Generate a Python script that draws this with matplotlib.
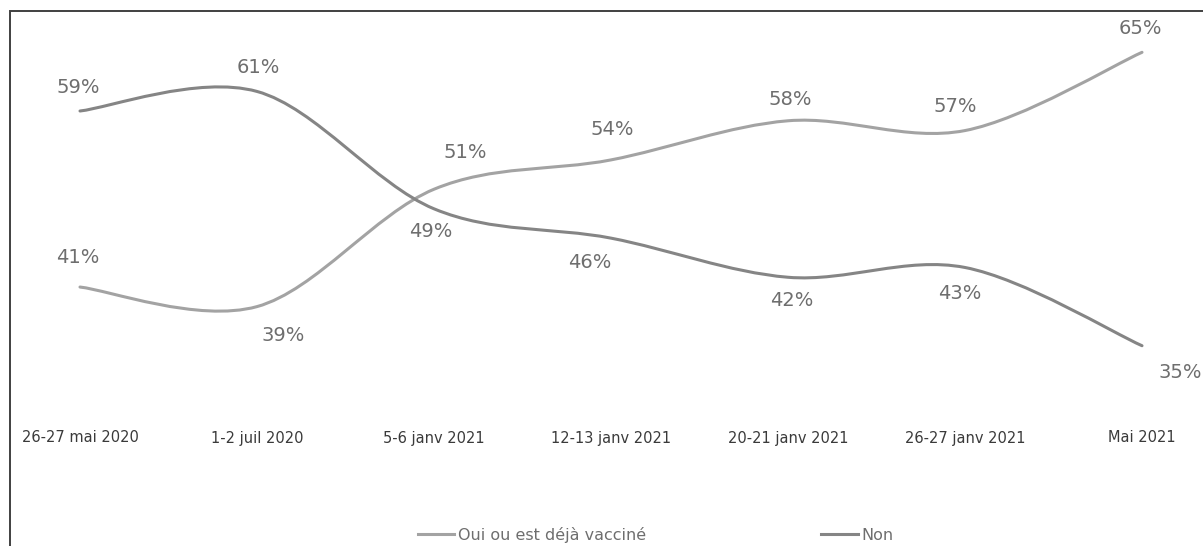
import matplotlib
matplotlib.use("Agg")
import matplotlib.pyplot as plt
from matplotlib.path import Path
from matplotlib.patches import PathPatch, Rectangle
from matplotlib.lines import Line2D
import numpy as np

categories = ["26-27 mai 2020", "1-2 juil 2020", "5-6 janv 2021", "12-13 janv 2021",
              "20-21 janv 2021", "26-27 janv 2021", "Mai 2021"]
oui = [41, 39, 51, 54, 58, 57, 65]
non = [59, 61, 49, 46, 42, 43, 35]
series_names = ["Oui ou est déjà vacciné", "Non"]

COL_OUI = "#a3a3a3"
COL_NON = "#858585"
TEXT = "#6e6e6e"

W, H = 1203, 546
fig = plt.figure(figsize=(W / 100, H / 100), dpi=100)
fig.patch.set_facecolor("white")
ax = fig.add_axes([0, 0, 1, 1])
ax.set_axis_off()

# pixel geometry of the category axis and the value scale
x0, dx = 80, 177
y59, ppu = 111, 9.78
ax.set_xlim(-x0 / dx, (W - x0) / dx)
ax.set_ylim(59 - (H - y59) / ppu, 59 + y59 / ppu)


def smooth_path(xs, ys):
    """Cubic Bezier through every point, Catmull-Rom style tangents."""
    pts = np.column_stack([xs, ys]).astype(float)
    n = len(pts)
    verts = [pts[0]]
    codes = [Path.MOVETO]
    for i in range(n - 1):
        p_prev = pts[max(i - 1, 0)]
        p0, p1 = pts[i], pts[i + 1]
        p_next = pts[min(i + 2, n - 1)]
        c1 = p0 + (p1 - p_prev) / 6
        c2 = p1 - (p_next - p0) / 6
        verts += [c1, c2, p1]
        codes += [Path.CURVE4] * 3
    return Path(verts, codes)


xs = np.arange(len(categories))
for vals, col in [(oui, COL_OUI), (non, COL_NON)]:
    ax.add_patch(PathPatch(smooth_path(xs, vals), facecolor="none", edgecolor=col,
                           lw=2.2, capstyle="round", joinstyle="round"))

# data label offsets in pixels (dx, dy)
oui_off = [(-2, 30), (26, -29), (31, 37), (1, 30), (2, 21), (-10, 24), (-2, 24)]
non_off = [(-2, 24), (1, 24), (-3, -23), (-21, -24), (4, -23), (-5, -26), (38, -27)]
for vals, offs in [(oui, oui_off), (non, non_off)]:
    for i, (v, o) in enumerate(zip(vals, offs)):
        ax.annotate(f"{v}%", (i, v), xytext=o, textcoords="offset pixels",
                    ha="center", va="center", fontsize=14, color=TEXT)

# category labels
for i, lab in enumerate(categories):
    ax.annotate(lab, (i, 0), xycoords=("data", "figure pixels"),
                xytext=(0, H - 438), textcoords=("offset pixels"),
                ha="center", va="center", fontsize=10.5, color="#3a3a3a")

# chart frame
fig.patches.append(Rectangle((10 / W, -0.1), 1.2, (H - 11) / H + 0.1,
                             transform=fig.transFigure, fill=False,
                             edgecolor="#404040", lw=1.4))

# legend along the bottom edge
handles = [Line2D([], [], color=COL_OUI, lw=2.2), Line2D([], [], color=COL_NON, lw=2.2)]
fig.legend(handles, series_names, loc="center", bbox_to_anchor=(0.545, (H - 535) / H),
           ncol=2, frameon=False, fontsize=11.5, labelcolor=TEXT, handlelength=2.3,
           handletextpad=0.2, columnspacing=11, borderpad=0)

fig.savefig("out.png", dpi=100, facecolor="white")
